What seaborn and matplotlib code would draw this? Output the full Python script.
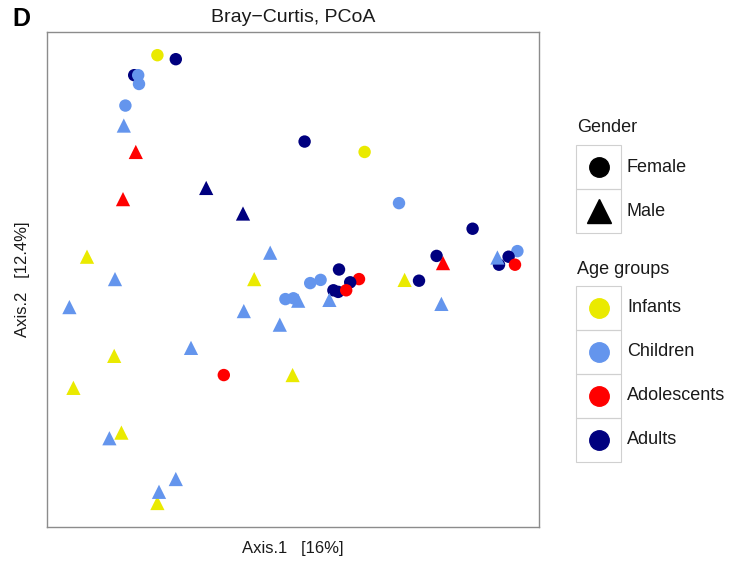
import matplotlib
matplotlib.use("Agg")
import matplotlib.pyplot as plt
import seaborn as sns
import pandas as pd
from matplotlib.patches import Rectangle

# PCoA coordinates (Bray-Curtis)
female_axis1 = [-0.166, -0.143, -0.195, -0.190, -0.189, -0.206, 0.018, 0.093, 0.136,
                0.228, 0.183, 0.284, 0.273, 0.261, 0.281, 0.161, 0.061, 0.086, 0.075,
                0.025, 0.038, 0.054, 0.060, 0.070, -0.006, 0.004, -0.083]
female_axis2 = [0.281, 0.276, 0.256, 0.256, 0.245, 0.218, 0.173, 0.160, 0.096,
                0.064, 0.030, 0.036, 0.029, 0.019, 0.019, -0.001, 0.013, 0.001, -0.003,
                -0.004, 0.000, -0.013, -0.015, -0.013, -0.024, -0.023, -0.119]
female_age = ["Infants", "Adults", "Adults", "Children", "Children", "Children", "Adults",
              "Infants", "Children", "Adults", "Adults", "Children", "Adults", "Adults",
              "Adolescents", "Adults", "Adults", "Adolescents", "Adults", "Children",
              "Children", "Adults", "Adults", "Adolescents", "Children", "Children",
              "Adolescents"]

male_axis1 = [-0.208, -0.193, -0.209, -0.105, -0.059, -0.254, -0.025, 0.191, 0.259,
              0.143, 0.189, 0.010, 0.049, -0.013, 0.003, -0.219, -0.045, -0.276,
              -0.058, -0.124, -0.220, -0.271, -0.211, -0.226, -0.143, -0.166, -0.164]
male_axis2 = [0.193, 0.160, 0.101, 0.115, 0.083, 0.029, 0.034, 0.021, 0.028,
              0.000, -0.030, -0.026, -0.025, -0.056, -0.119, 0.001, 0.001, -0.034,
              -0.039, -0.085, -0.095, -0.135, -0.191, -0.198, -0.249, -0.279, -0.265]
male_age = ["Children", "Adolescents", "Adolescents", "Adults", "Adults", "Infants",
            "Children", "Adolescents", "Children", "Infants", "Children", "Children",
            "Children", "Children", "Infants", "Children", "Infants", "Children",
            "Children", "Children", "Infants", "Infants", "Infants", "Children",
            "Children", "Infants", "Children"]

age_groups = ["Infants", "Children", "Adolescents", "Adults"]
age_colors = ["#EAEA00", "#6495ED", "#FF0000", "#00007F"]
genders = ["Female", "Male"]

palette = dict(zip(age_groups, age_colors))

df = pd.concat([
    pd.DataFrame({"Axis1": female_axis1, "Axis2": female_axis2, "Age": female_age, "Gender": "Female"}),
    pd.DataFrame({"Axis1": male_axis1, "Axis2": male_axis2, "Age": male_age, "Gender": "Male"}),
], ignore_index=True)

sns.set_style("white")
plt.rcParams["font.family"] = ["Liberation Sans", "DejaVu Sans"]
plt.rcParams["text.color"] = "#1a1a1a"
plt.rcParams["axes.labelcolor"] = "#1a1a1a"

fig = plt.figure(figsize=(7.33, 5.62), dpi=100)
ax = fig.add_axes([47 / 733, 1 - 527 / 562, 492 / 733, 495 / 562])

sns.scatterplot(data=df[df.Gender == "Female"], x="Axis1", y="Axis2", hue="Age",
                palette=palette, marker="o", s=80, linewidth=0, legend=False, ax=ax)
sns.scatterplot(data=df[df.Gender == "Male"], x="Axis1", y="Axis2", hue="Age",
                palette=palette, marker="^", s=105, linewidth=0, legend=False, ax=ax)

ax.set_xlim(-0.304, 0.311)
ax.set_ylim(-0.309, 0.31)
ax.set_xticks([])
ax.set_yticks([])
for sp in ax.spines.values():
    sp.set_color("#8c8c8c")
    sp.set_linewidth(1.0)

ax.set_title("Bray\u2212Curtis, PCoA", fontsize=14, pad=7)
ax.set_xlabel("Axis.1   [16%]", fontsize=12, labelpad=10)
ax.set_ylabel("Axis.2   [12.4%]", fontsize=12, labelpad=12)

# overlay in pixel coordinates for panel letter and legend
ov = fig.add_axes([0, 0, 1, 1], zorder=5)
ov.set_xlim(0, 733)
ov.set_ylim(562, 0)
ov.set_axis_off()

ov.text(12, 19, "D", fontsize=18, fontweight="bold", va="center", ha="left", color="black")

box_l, box_w, row_h = 576, 45, 44
text_x = 627


def legend_block(title, title_y, top, labels, markers, colors, sizes):
    ov.text(577, title_y, title, fontsize=13, va="center", ha="left")
    for i, (lab, m, c, ms) in enumerate(zip(labels, markers, colors, sizes)):
        y0 = top + i * row_h
        ov.add_patch(Rectangle((box_l, y0), box_w, row_h, fill=False,
                               edgecolor="#d0d0d0", linewidth=0.8))
        ov.plot(box_l + box_w / 2, y0 + row_h / 2, marker=m, color=c,
                markersize=ms, linestyle="none")
        ov.text(text_x, y0 + row_h / 2, lab, fontsize=13, va="center", ha="left")


legend_block("Gender", 128, 145, genders, ["o", "^"], ["black", "black"], [14, 17])
legend_block("Age groups", 269, 286, age_groups, ["o"] * 4, age_colors, [14] * 4)

fig.savefig("out.png", dpi=100)
